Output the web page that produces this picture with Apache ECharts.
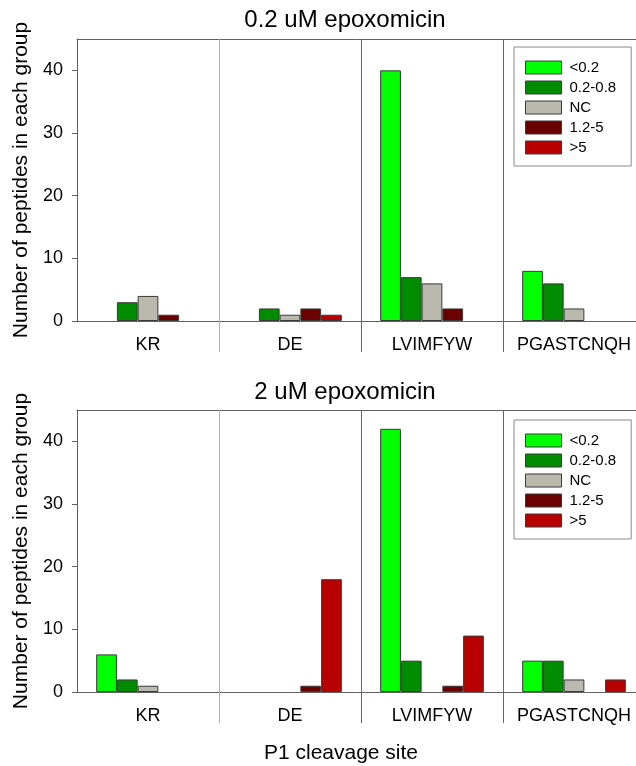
<!DOCTYPE html>
<html><head><meta charset="utf-8">
<script src="https://cdn.jsdelivr.net/npm/echarts@6/dist/echarts.min.js"></script>
<style>html,body{margin:0;padding:0;background:#fff}#c{width:636px;height:766px}</style>
</head><body><div id="c"></div>
<script>
// ---- data ----
const categories = ['KR', 'DE', 'LVIMFYW', 'PGASTCNQH'];
const groups = ['<0.2', '0.2-0.8', 'NC', '1.2-5', '>5'];
const yTicks = [0, 10, 20, 30, 40];
const panelTitles = ['0.2 uM epoxomicin', '2 uM epoxomicin'];
const xTitle = 'P1 cleavage site';
const yTitle = 'Number of peptides in each group';

// panel 1: 0.2 uM epoxomicin (values per category KR, DE, LVIMFYW, PGASTCNQH)
const top_lt02  = [0, 0, 40, 8];
const top_02_08 = [3, 2, 7, 6];
const top_NC    = [4, 1, 6, 2];
const top_12_5  = [1, 2, 2, 0];
const top_gt5   = [0, 1, 0, 0];
// panel 2: 2 uM epoxomicin
const bot_lt02  = [6, 0, 42, 5];
const bot_02_08 = [2, 0, 5, 5];
const bot_NC    = [1, 0, 0, 2];
const bot_12_5  = [0, 1, 1, 0];
const bot_gt5   = [0, 18, 9, 2];

const panels = [
  [top_lt02, top_02_08, top_NC, top_12_5, top_gt5],
  [bot_lt02, bot_02_08, bot_NC, bot_12_5, bot_gt5]
];

// ---- styles ----
const colors = ['#00ff00', '#008c00', '#b9b9ad', '#6b0000', '#b90000'];
const FONT = 'Liberation Sans, Arial, sans-serif';
const axisColor = '#606060';
const gridTops = [39, 410];
const gridH = 282;

const grids = gridTops.map(t => ({ left: 77, top: t, width: 568, height: gridH, outerBoundsMode: 'none', containLabel: false }));

const xAxes = [];
const yAxes = [];
gridTops.forEach((t, p) => {
  xAxes.push({
    type: 'category', gridIndex: p, data: categories, position: 'bottom',
    axisLine: { lineStyle: { color: axisColor, width: 1 } },
    axisTick: { show: false },
    axisLabel: { interval: 0, hideOverlap: false, fontFamily: FONT, fontSize: 18, color: '#000', margin: 15 },
    splitLine: { show: false }
  });
  xAxes.push({
    type: 'category', gridIndex: p, data: categories, position: 'top',
    axisLine: { lineStyle: { color: axisColor, width: 1 } },
    axisTick: { show: false }, axisLabel: { show: false }, splitLine: { show: false }
  });
  yAxes.push({
    type: 'value', gridIndex: p, min: 0, max: 45, interval: 10,
    axisLine: { show: true, lineStyle: { color: axisColor, width: 1 } },
    axisTick: { show: true, length: 5, customValues: yTicks, lineStyle: { color: axisColor } },
    axisLabel: { customValues: yTicks, fontFamily: FONT, fontSize: 18, color: '#000', margin: 14 },
    splitLine: { show: false },
    name: yTitle, nameLocation: 'middle', nameGap: 41,
    nameTextStyle: { fontFamily: FONT, fontSize: 21, color: '#000' }
  });
});

const series = [];
panels.forEach((vals, p) => {
  vals.forEach((arr, g) => {
    series.push({
      type: 'bar', name: groups[g],
      xAxisIndex: p * 2, yAxisIndex: p,
      data: arr.map(v => (v === 0 ? null : v)),
      barGap: '0%', barCategoryGap: '27%',
      itemStyle: { color: colors[g], borderColor: '#3a3a3a', borderWidth: 1 },
      emphasis: { disabled: true },
      animation: false
    });
  });
});

const legends = [47, 420].map(t => ({
  data: groups.map(n => ({ name: n, icon: 'rect' })), orient: 'vertical', left: 514, top: t,
  itemWidth: 36, itemHeight: 13, itemGap: 5,
  padding: [13, 15, 11, 11],
  backgroundColor: '#fff', borderColor: '#8a8a8a', borderWidth: 1,
  itemStyle: { borderColor: '#3a3a3a', borderWidth: 1 },
  textStyle: { fontFamily: FONT, fontSize: 15, color: '#000', padding: [0, 0, 0, 3] },
  selectedMode: false
}));

const option = {
  animation: false,
  backgroundColor: '#fff',
  grid: grids, xAxis: xAxes, yAxis: yAxes, series: series, legend: legends
};

const chart = echarts.init(document.getElementById('c'), null, { renderer: 'canvas' });
chart.setOption(option);

// decorations: panel titles, x title, and category separators derived from the axes
const gfx = [];
panelTitles.forEach((txt, p) => {
  gfx.push({ type: 'text', x: 345, y: p === 0 ? 20 : 392,
    style: { text: txt, font: '24px ' + FONT, fill: '#000', textAlign: 'center', textVerticalAlign: 'middle' } });
});
gfx.push({ type: 'text', x: 341, y: 753,
  style: { text: xTitle, font: '21px ' + FONT, fill: '#000', textAlign: 'center', textVerticalAlign: 'middle' } });

[0, 1].forEach(p => {
  const centers = categories.map(c => chart.convertToPixel({ xAxisIndex: p * 2 }, c));
  const yTop = chart.convertToPixel({ yAxisIndex: p }, 45);
  const yBase = chart.convertToPixel({ yAxisIndex: p }, 0);
  for (let k = 1; k < categories.length; k++) {
    const x = Math.round((centers[k - 1] + centers[k]) / 2) + 0.5;
    gfx.push({ type: 'line', z: 1,
      shape: { x1: x, y1: yTop, x2: x, y2: yBase + 31 },
      style: { stroke: k === 1 ? '#b4b4b4' : '#666', lineWidth: 1 } });
  }
});
chart.setOption({ graphic: gfx });
</script>
</body></html>
